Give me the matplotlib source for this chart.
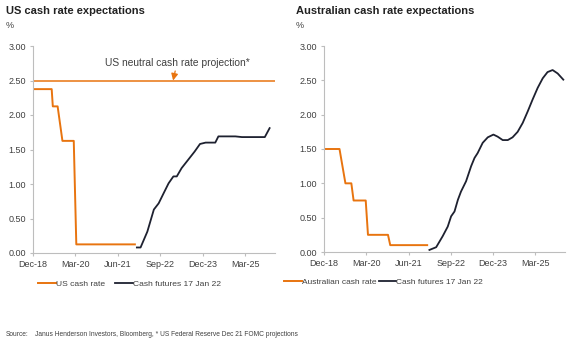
import matplotlib
matplotlib.use("Agg")
import matplotlib.pyplot as plt

plt.rcParams['font.family'] = ['Liberation Sans', 'DejaVu Sans']

ORANGE = '#E8740F'
NAVY = '#1E2130'
GRAY = '#404040'
SPINE = '#bdbdbd'

tick_pos = [0, 15, 30, 45, 60, 75]
tick_labels = ['Dec-18', 'Mar-20', 'Jun-21', 'Sep-22', 'Dec-23', 'Mar-25']
y_ticks = [0.0, 0.5, 1.0, 1.5, 2.0, 2.5, 3.0]

# US (months since Dec-18)
us_rate_x = [0, 6.6, 7.0, 8.7, 10.4, 14.4, 15.3, 36.0]
us_rate_y = [2.375, 2.375, 2.125, 2.125, 1.625, 1.625, 0.125, 0.125]
us_fut_x = [36.7, 38.0, 40.4, 42.7, 44.4, 46.2, 47.9, 49.6, 50.8, 52.5, 54.8, 57.1,
            59.0, 61.0, 64.4, 65.5, 71.5, 73.8, 81.9, 83.6]
us_fut_y = [0.08, 0.08, 0.31, 0.63, 0.72, 0.87, 1.01, 1.11, 1.11, 1.23, 1.35, 1.47,
            1.58, 1.60, 1.60, 1.69, 1.69, 1.68, 1.68, 1.81]
us_neutral = 2.5

# Australia
au_rate_x = [0, 5.5, 7.6, 9.7, 10.5, 14.8, 15.6, 22.7, 23.5, 36.6]
au_rate_y = [1.5, 1.5, 1.0, 1.0, 0.75, 0.75, 0.25, 0.25, 0.10, 0.10]
au_fut_x = [37.4, 39.8, 42.1, 43.9, 45.1, 46.3, 47.5, 48.6, 50.4, 52.2, 53.4, 54.5,
            56.3, 58.1, 60.1, 61.6, 63.4, 65.2, 66.9, 68.7, 70.5, 72.3, 74.0, 75.8,
            77.6, 79.3, 81.1, 82.9, 84.9]
au_fut_y = [0.03, 0.07, 0.23, 0.37, 0.52, 0.59, 0.76, 0.88, 1.03, 1.25, 1.37, 1.44,
            1.59, 1.67, 1.71, 1.68, 1.63, 1.63, 1.67, 1.75, 1.88, 2.05, 2.22, 2.39,
            2.53, 2.62, 2.65, 2.60, 2.51]

W, H = 588, 342
fig = plt.figure(figsize=(W / 100, H / 100), dpi=100)

def style(ax):
    ax.set_xlim(0, 85.5)
    ax.set_ylim(0, 3.0)
    ax.set_xticks(tick_pos)
    ax.set_xticklabels(tick_labels)
    ax.set_yticks(y_ticks)
    ax.set_yticklabels([f'{v:.2f}' for v in y_ticks])
    for s in ['top', 'right']:
        ax.spines[s].set_visible(False)
    for s in ['left', 'bottom']:
        ax.spines[s].set_color(SPINE)
        ax.spines[s].set_linewidth(0.8)
    ax.tick_params(axis='both', labelsize=6.5, colors=SPINE, labelcolor=GRAY,
                   length=2.2, width=0.8, pad=3)

ax1 = fig.add_axes([33 / W, (H - 253) / H, (275 - 33) / W, 207 / H])
style(ax1)
ax1.axhline(us_neutral, color=ORANGE, lw=1.1)
ax1.plot(us_rate_x, us_rate_y, color=ORANGE, lw=1.4, label='US cash rate')
ax1.plot(us_fut_x, us_fut_y, color=NAVY, lw=1.3, label='Cash futures 17 Jan 22')
ax1.annotate('US neutral cash rate projection*', xy=(49.5, us_neutral), xytext=(50.9, 2.76),
             ha='center', va='center', fontsize=7.4, color=GRAY,
             arrowprops=dict(arrowstyle='-|>,head_length=0.5,head_width=0.25', color=ORANGE,
                             lw=0.9, mutation_scale=8, shrinkA=0.5, shrinkB=0))
ax1.legend(loc='upper left', bbox_to_anchor=(-0.01, -0.095), ncol=2, frameon=False,
           fontsize=6.1, handlelength=2.1, handletextpad=0.0, columnspacing=1.2,
           labelcolor=GRAY)

ax2 = fig.add_axes([324 / W, (H - 252) / H, (565 - 324) / W, 206 / H])
style(ax2)
ax2.plot(au_rate_x, au_rate_y, color=ORANGE, lw=1.4, label='Australian cash rate')
ax2.plot(au_fut_x, au_fut_y, color=NAVY, lw=1.3, label='Cash futures 17 Jan 22')
ax2.legend(loc='upper left', bbox_to_anchor=(-0.197, -0.09), ncol=2, frameon=False,
           fontsize=6.0, handlelength=2.1, handletextpad=0.0, columnspacing=0.3,
           labelcolor=GRAY)

fig.text(6 / W, 1 - 11 / H, 'US cash rate expectations', fontsize=8, fontweight='bold',
         color='#222222', va='center')
fig.text(296 / W, 1 - 11 / H, 'Australian cash rate expectations', fontsize=8,
         fontweight='bold', color='#222222', va='center')
fig.text(6 / W, 1 - 25 / H, '%', fontsize=6.5, color=GRAY, va='center')
fig.text(296 / W, 1 - 25 / H, '%', fontsize=6.5, color=GRAY, va='center')
fig.text(6 / W, 1 - 334 / H, 'Source:', fontsize=4.8, color=GRAY, va='center')
fig.text(35 / W, 1 - 334 / H,
         'Janus Henderson Investors, Bloomberg, * US Federal Reserve Dec 21 FOMC projections',
         fontsize=4.8, color=GRAY, va='center')

fig.savefig('out.png', dpi=100)
